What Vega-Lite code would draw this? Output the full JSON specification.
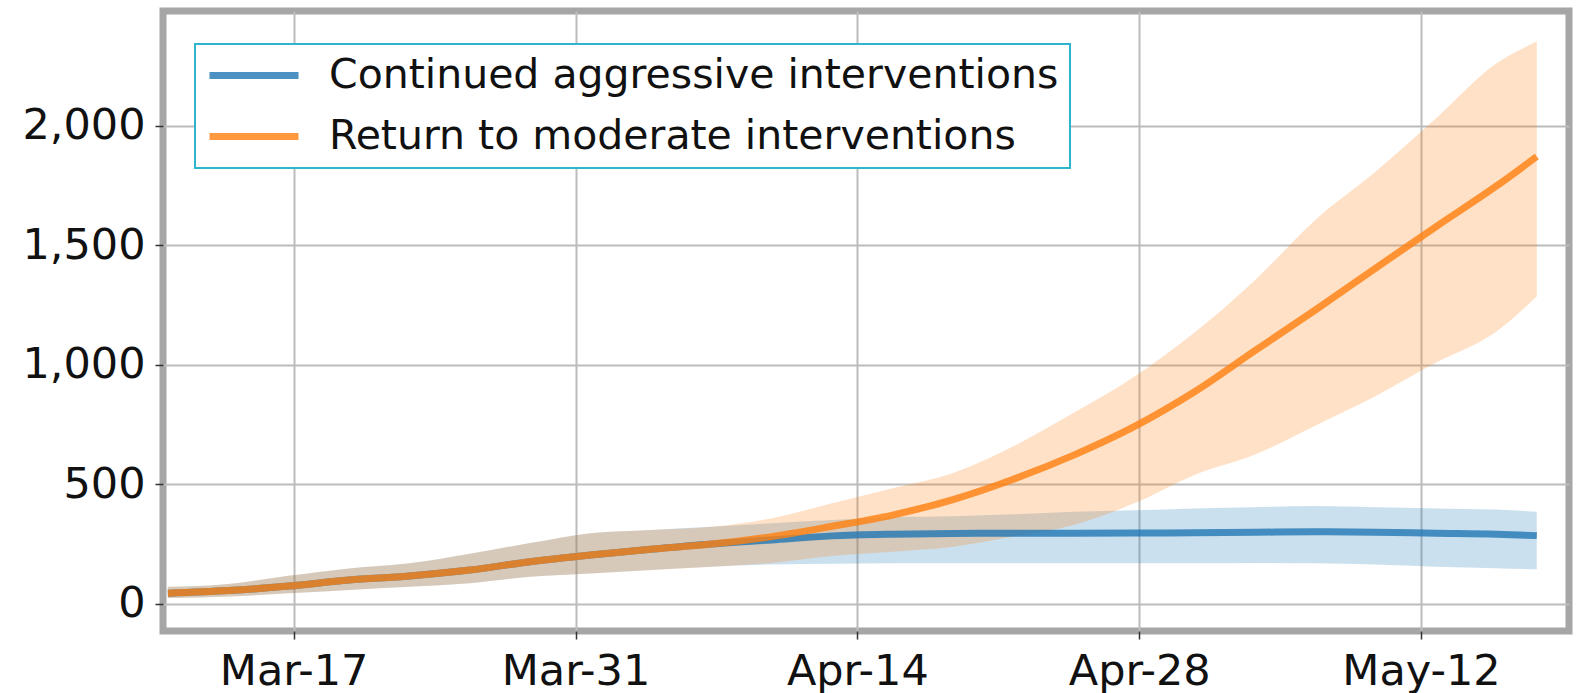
{
  "$schema": "https://vega.github.io/schema/vega-lite/v6.json",
  "width": 1406,
  "height": 620,
  "autosize": {"type": "none"},
  "padding": {"left": 163, "top": 11, "right": 7, "bottom": 62},
  "background": "white",
  "config": {
    "view": {"stroke": "#a6a6a6", "strokeWidth": 7},
    "font": "DejaVu Sans",
    "axis": {
      "labelFont": "DejaVu Sans",
      "labelFontSize": 43,
      "labelColor": "#111111",
      "domain": false,
      "grid": true,
      "gridColor": "#bcbcbc",
      "gridWidth": 2,
      "tickColor": "#333333",
      "tickWidth": 1.5,
      "tickSize": 8,
      "title": null
    },
    "legend": {
      "title": null,
      "orient": "none",
      "legendX": 32,
      "legendY": 33,
      "symbolType": "stroke",
      "symbolSize": 7921,
      "symbolStrokeWidth": 7,
      "symbolOpacity": 0.8,
      "labelFont": "DejaVu Sans",
      "labelFontSize": 41,
      "labelColor": "#111111",
      "labelLimit": 2000,
      "labelOffset": 27,
      "padding": 11,
      "rowPadding": 19,
      "clipHeight": 41,
      "strokeColor": "#2fb4ce",
      "fillColor": "white"
    }
  },
  "data": {
    "values": [
      {"scenario": "Continued aggressive interventions", "date": "2020-03-10T18:00:00", "median": 45, "lo": 25, "hi": 72},
      {"scenario": "Continued aggressive interventions", "date": "2020-03-13T18:00:00", "median": 56, "lo": 31, "hi": 84},
      {"scenario": "Continued aggressive interventions", "date": "2020-03-16T18:00:00", "median": 75, "lo": 45, "hi": 118},
      {"scenario": "Continued aggressive interventions", "date": "2020-03-19T18:00:00", "median": 100, "lo": 59, "hi": 149},
      {"scenario": "Continued aggressive interventions", "date": "2020-03-22T18:00:00", "median": 117, "lo": 72, "hi": 170},
      {"scenario": "Continued aggressive interventions", "date": "2020-03-25T18:00:00", "median": 142, "lo": 87, "hi": 210},
      {"scenario": "Continued aggressive interventions", "date": "2020-03-28T18:00:00", "median": 177, "lo": 114, "hi": 255},
      {"scenario": "Continued aggressive interventions", "date": "2020-03-31T18:00:00", "median": 205, "lo": 128, "hi": 296},
      {"scenario": "Continued aggressive interventions", "date": "2020-04-03T18:00:00", "median": 229, "lo": 142, "hi": 310},
      {"scenario": "Continued aggressive interventions", "date": "2020-04-06T18:00:00", "median": 251, "lo": 156, "hi": 323},
      {"scenario": "Continued aggressive interventions", "date": "2020-04-09T18:00:00", "median": 268, "lo": 165, "hi": 338},
      {"scenario": "Continued aggressive interventions", "date": "2020-04-12T18:00:00", "median": 285, "lo": 168, "hi": 351},
      {"scenario": "Continued aggressive interventions", "date": "2020-04-15T18:00:00", "median": 292, "lo": 170, "hi": 363},
      {"scenario": "Continued aggressive interventions", "date": "2020-04-18T18:00:00", "median": 295, "lo": 170, "hi": 367},
      {"scenario": "Continued aggressive interventions", "date": "2020-04-21T18:00:00", "median": 296, "lo": 170, "hi": 375},
      {"scenario": "Continued aggressive interventions", "date": "2020-04-24T18:00:00", "median": 296, "lo": 170, "hi": 386},
      {"scenario": "Continued aggressive interventions", "date": "2020-04-27T18:00:00", "median": 297, "lo": 170, "hi": 392},
      {"scenario": "Continued aggressive interventions", "date": "2020-04-30T18:00:00", "median": 298, "lo": 170, "hi": 400},
      {"scenario": "Continued aggressive interventions", "date": "2020-05-03T18:00:00", "median": 300, "lo": 172, "hi": 405},
      {"scenario": "Continued aggressive interventions", "date": "2020-05-06T18:00:00", "median": 302, "lo": 170, "hi": 410},
      {"scenario": "Continued aggressive interventions", "date": "2020-05-09T18:00:00", "median": 300, "lo": 165, "hi": 405},
      {"scenario": "Continued aggressive interventions", "date": "2020-05-12T18:00:00", "median": 296, "lo": 156, "hi": 400},
      {"scenario": "Continued aggressive interventions", "date": "2020-05-15T18:00:00", "median": 292, "lo": 150, "hi": 395},
      {"scenario": "Continued aggressive interventions", "date": "2020-05-17T18:00:00", "median": 286, "lo": 145, "hi": 386},
      {"scenario": "Return to moderate interventions", "date": "2020-03-10T18:00:00", "median": 45, "lo": 25, "hi": 72},
      {"scenario": "Return to moderate interventions", "date": "2020-03-13T18:00:00", "median": 56, "lo": 31, "hi": 84},
      {"scenario": "Return to moderate interventions", "date": "2020-03-16T18:00:00", "median": 75, "lo": 45, "hi": 118},
      {"scenario": "Return to moderate interventions", "date": "2020-03-19T18:00:00", "median": 100, "lo": 59, "hi": 149},
      {"scenario": "Return to moderate interventions", "date": "2020-03-22T18:00:00", "median": 117, "lo": 72, "hi": 170},
      {"scenario": "Return to moderate interventions", "date": "2020-03-25T18:00:00", "median": 142, "lo": 87, "hi": 210},
      {"scenario": "Return to moderate interventions", "date": "2020-03-28T18:00:00", "median": 177, "lo": 114, "hi": 255},
      {"scenario": "Return to moderate interventions", "date": "2020-03-31T18:00:00", "median": 205, "lo": 128, "hi": 296},
      {"scenario": "Return to moderate interventions", "date": "2020-04-03T18:00:00", "median": 229, "lo": 142, "hi": 310},
      {"scenario": "Return to moderate interventions", "date": "2020-04-06T18:00:00", "median": 251, "lo": 156, "hi": 323},
      {"scenario": "Return to moderate interventions", "date": "2020-04-09T18:00:00", "median": 282, "lo": 172, "hi": 359},
      {"scenario": "Return to moderate interventions", "date": "2020-04-12T18:00:00", "median": 325, "lo": 201, "hi": 421},
      {"scenario": "Return to moderate interventions", "date": "2020-04-15T18:00:00", "median": 372, "lo": 219, "hi": 484},
      {"scenario": "Return to moderate interventions", "date": "2020-04-18T18:00:00", "median": 437, "lo": 240, "hi": 548},
      {"scenario": "Return to moderate interventions", "date": "2020-04-21T18:00:00", "median": 522, "lo": 282, "hi": 660},
      {"scenario": "Return to moderate interventions", "date": "2020-04-24T18:00:00", "median": 623, "lo": 331, "hi": 800},
      {"scenario": "Return to moderate interventions", "date": "2020-04-27T18:00:00", "median": 742, "lo": 421, "hi": 951},
      {"scenario": "Return to moderate interventions", "date": "2020-04-30T18:00:00", "median": 888, "lo": 540, "hi": 1136},
      {"scenario": "Return to moderate interventions", "date": "2020-05-03T18:00:00", "median": 1060, "lo": 625, "hi": 1355},
      {"scenario": "Return to moderate interventions", "date": "2020-05-06T18:00:00", "median": 1230, "lo": 746, "hi": 1607},
      {"scenario": "Return to moderate interventions", "date": "2020-05-09T18:00:00", "median": 1405, "lo": 870, "hi": 1809},
      {"scenario": "Return to moderate interventions", "date": "2020-05-12T18:00:00", "median": 1579, "lo": 1010, "hi": 2032},
      {"scenario": "Return to moderate interventions", "date": "2020-05-15T18:00:00", "median": 1749, "lo": 1140, "hi": 2262},
      {"scenario": "Return to moderate interventions", "date": "2020-05-17T18:00:00", "median": 1872, "lo": 1287, "hi": 2353}
    ]
  },
  "encoding": {
    "x": {
      "field": "date",
      "type": "temporal",
      "scale": {
        "domain": [
          {"year": 2020, "month": 3, "date": 10, "hours": 12, "minutes": 13},
          {"year": 2020, "month": 5, "date": 19, "hours": 8, "minutes": 25}
        ]
      },
      "axis": {
        "values": [
          {"year": 2020, "month": 3, "date": 17},
          {"year": 2020, "month": 3, "date": 31},
          {"year": 2020, "month": 4, "date": 14},
          {"year": 2020, "month": 4, "date": 28},
          {"year": 2020, "month": 5, "date": 12}
        ],
        "format": "%b-%d",
        "labelPadding": 11,
        "labelFlush": false
      }
    },
    "color": {
      "field": "scenario",
      "type": "nominal",
      "scale": {
        "domain": ["Continued aggressive interventions", "Return to moderate interventions"],
        "range": ["#1f77b4", "#ff7f0e"]
      },
      "legend": {
        "encode": {"legend": {"update": {"strokeWidth": {"value": 2}}}}
      }
    }
  },
  "layer": [
    {
      "mark": {"type": "area", "opacity": 0.23, "interpolate": "monotone"},
      "encoding": {
        "y": {
          "field": "lo",
          "type": "quantitative",
          "scale": {"domain": [-113, 2481], "nice": false, "zero": false},
          "axis": {"values": [0, 500, 1000, 1500, 2000], "format": ",.0f", "labelPadding": 10, "labelFlush": false}
        },
        "y2": {"field": "hi"}
      }
    },
    {
      "mark": {"type": "line", "opacity": 0.8, "strokeWidth": 7, "strokeCap": "butt", "interpolate": "monotone"},
      "encoding": {
        "y": {"field": "median", "type": "quantitative"}
      }
    }
  ]
}
